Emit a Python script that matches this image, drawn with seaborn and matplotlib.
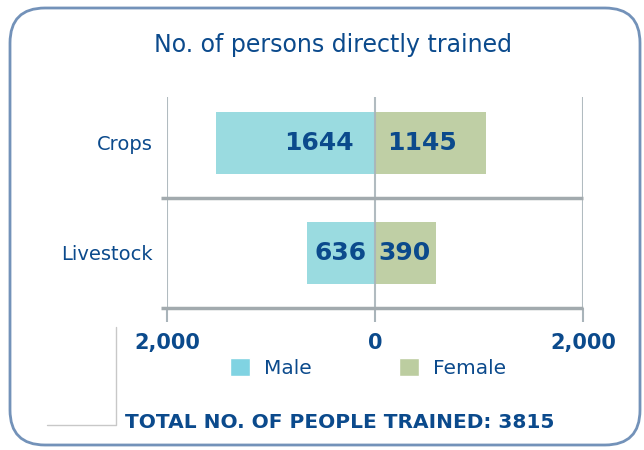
import matplotlib
matplotlib.use('Agg')
import matplotlib.pyplot as plt
import seaborn as sns
import pandas as pd
from matplotlib.patches import FancyBboxPatch, Patch
from matplotlib.lines import Line2D

# data (bar lengths as drawn, labels as printed)
categories = ['Crops', 'Livestock']
male_bar = [1530, 655]
female_bar = [1065, 585]
male_labels = ['1644', '636']
female_labels = ['1145', '390']
tick_values = [-2000, 0, 2000]
tick_labels = ['2,000', '0', '2,000']
title = 'No. of persons directly trained'
total_text = 'TOTAL NO. OF PEOPLE TRAINED: 3815'

# styling
txt = '#0B4A8C'
male_c = '#9ADBE0'
female_c = '#BFCFA5'
grid_c = '#A9B4BA'
male_pad = [200, 77]     # gap between zero and right end of male label
female_pad = [115, 30]   # gap between zero and left end of female label

df = pd.DataFrame({
    'category': categories * 2,
    'sex': ['Male'] * len(categories) + ['Female'] * len(categories),
    'value': [-v for v in male_bar] + female_bar,
})

sns.set_style('white')
plt.rcParams['font.family'] = ['DejaVu Sans']

W, H = 644, 450
fig = plt.figure(figsize=(W / 100, H / 100), dpi=100)
# axes placed in pixel terms of the reference
ax = fig.add_axes([167 / W, 1 - 308 / H, 416 / W, 220 / H])

sns.barplot(data=df, y='category', x='value', hue='sex', orient='h',
            palette={'Male': male_c, 'Female': female_c}, dodge=False, saturation=1,
            width=0.57, ax=ax, legend=False, edgecolor='none', zorder=2)

ax.set_xlim(-2000, 2000)
ax.set_ylim(1.5, -0.5)
for s in ax.spines.values():
    s.set_visible(False)
ax.set_xlabel('')
ax.set_ylabel('')

# grid lines: vertical at ticks, horizontal separators between categories
ax.vlines(tick_values, 1.5, -0.42, color=grid_c, lw=1.5, zorder=3, alpha=0.9)
ax.hlines([0.5, 1.5], -2060, 2000, color='#A2AAAE', lw=2.5, zorder=3, clip_on=False)

ax.set_xticks(tick_values, tick_labels)
ax.tick_params(axis='x', bottom=True, length=10, width=1.5, color=grid_c, pad=8,
               labelsize=15, labelcolor=txt)
for t in ax.get_xticklabels():
    t.set_fontweight('bold')
ax.tick_params(axis='y', length=0, pad=10, labelsize=14, labelcolor=txt)

for i in range(len(categories)):
    ax.text(-male_pad[i], i, male_labels[i], ha='right', va='center',
            fontsize=18, fontweight='bold', color=txt, zorder=4)
    ax.text(female_pad[i], i, female_labels[i], ha='left', va='center',
            fontsize=18, fontweight='bold', color=txt, zorder=4)

fig.text(333 / W, 1 - 45 / H, title, ha='center', va='center', fontsize=17, color=txt)

handles = [Patch(facecolor='#80D3E2', label='Male'), Patch(facecolor='#BCCDA0', label='Female')]
fig.legend(handles=handles, loc='center', bbox_to_anchor=(368 / W, 1 - 368 / H), ncol=2,
           frameon=False, fontsize=14.5, handlelength=1.0, handleheight=1.0,
           handletextpad=0.7, columnspacing=4.3, labelcolor=txt)

fig.text(340 / W, 1 - 423 / H, total_text, ha='center', va='center', fontsize=14.5,
         fontweight='bold', color=txt)

# rounded frame and the stray grey corner line
frame = FancyBboxPatch((0.10, 0.05), 6.30, 4.37, boxstyle='round,pad=0,rounding_size=0.35',
                       transform=fig.dpi_scale_trans, fill=False, ec='#7392B9', lw=2)
fig.patches.append(frame)
fig.lines.append(Line2D([1.16, 1.16, 0.47], [1.23, 0.25, 0.25], color='#C8C8C8', lw=1,
                        transform=fig.dpi_scale_trans))

fig.savefig('out.png', dpi=100)
